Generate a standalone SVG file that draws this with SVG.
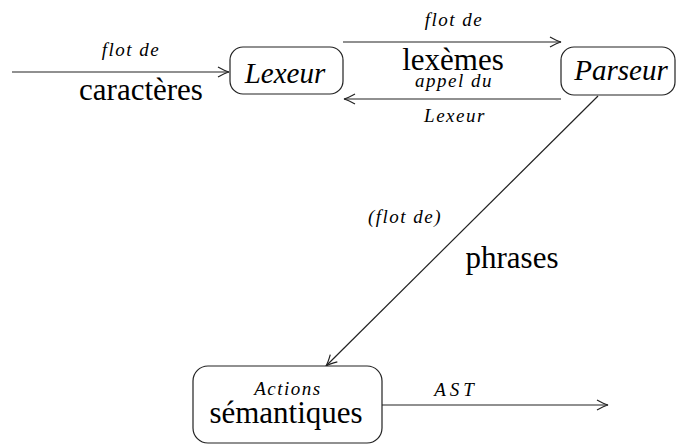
<svg xmlns="http://www.w3.org/2000/svg" width="679" height="446" viewBox="0 0 679 446">
<style>
.box{fill:#fff;stroke:#222;stroke-width:1.2}
.edge{fill:none;stroke:#222;stroke-width:1.2}
.big{font-family:"Liberation Serif",serif;font-size:31px;fill:#000}
.bigi{font-family:"Liberation Serif",serif;font-size:29px;font-style:italic;fill:#000}
.sm{font-family:"Liberation Serif",serif;font-size:19px;font-style:italic;letter-spacing:1.5px;fill:#000}
text{text-anchor:middle}
</style>
<defs>
<marker id="arr" viewBox="-12 -6 14 12" markerWidth="14" markerHeight="12" refX="0" refY="0" orient="auto" markerUnits="userSpaceOnUse">
<path d="M-11,-5 Q-4,-1 0,0 Q-4,1 -11,5" fill="none" stroke="#222" stroke-width="1.2"/>
</marker>
</defs>
<g id="connectors">
<line class="edge" x1="12" y1="72" x2="229" y2="72" marker-end="url(#arr)"/>
<line class="edge" x1="343" y1="42" x2="561" y2="42" marker-end="url(#arr)"/>
<line class="edge" x1="561" y1="99" x2="344" y2="99" marker-end="url(#arr)"/>
<line class="edge" x1="598" y1="96" x2="326" y2="366" marker-end="url(#arr)"/>
<line class="edge" x1="382" y1="405" x2="608" y2="405" marker-end="url(#arr)"/>
<text class="sm" x="131" y="56">flot de</text>
<text class="big" x="141" y="100">caractères</text>
<text class="sm" x="454" y="26">flot de</text>
<text class="big" x="453" y="70">lexèmes</text>
<text class="sm" x="454" y="87">appel du</text>
<text class="sm" x="455" y="122">Lexeur</text>
<text class="sm" x="405" y="223">(flot de)</text>
<text class="big" x="512" y="268">phrases</text>
<text class="sm" x="456" y="396" style="letter-spacing:4px">AST</text>
</g>
<g id="lexeur">
<rect class="box" x="230" y="47" width="113" height="47" rx="13"/>
<text class="bigi" x="285" y="83">Lexeur</text>
</g>
<g id="parseur">
<rect class="box" x="561" y="47" width="114" height="48" rx="13"/>
<text class="bigi" x="621" y="80">Parseur</text>
</g>
<g id="actions">
<rect class="box" x="193" y="366" width="189" height="77" rx="15"/>
<text class="sm" x="288" y="395">Actions</text>
<text class="big" x="286" y="423">sémantiques</text>
</g>
</svg>
